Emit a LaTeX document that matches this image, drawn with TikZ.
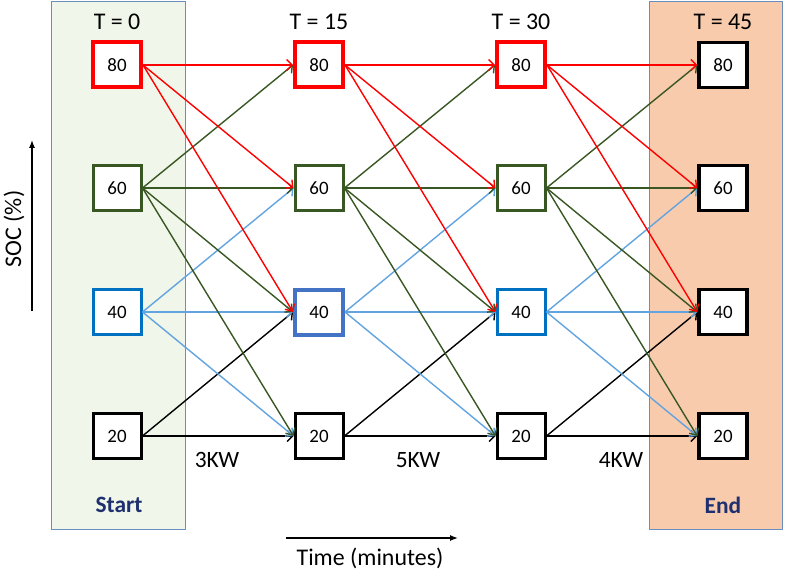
\documentclass[tikz,border=0pt]{standalone}
\usepackage{fontspec}
\setmainfont{Carlito}
\usetikzlibrary{arrows.meta}
\definecolor{cred}{HTML}{FF0000}
\definecolor{cgreen}{HTML}{385723}
\definecolor{cblue}{HTML}{0070C0}
\definecolor{cmblue}{HTML}{4472C4}
\definecolor{clblue}{HTML}{62A4E0}
\definecolor{startfill}{HTML}{F0F6E9}
\definecolor{endfill}{HTML}{F8CBAD}
\definecolor{panelborder}{HTML}{6A8FBF}
\definecolor{navy}{HTML}{1F3070}
\tikzset{
  box/.style={draw, fill=white, minimum width=48bp, minimum height=45bp, line width=3bp, inner sep=0pt, font=\fontsize{19}{22}\selectfont},
  redbox/.style={box, draw=cred, line width=4bp},
  conn/.style={line width=1.4bp, -{Straight Barb[length=5.5bp,width=11bp,line width=1.4bp]}},
  panel/.style={draw=panelborder, line width=1bp},
  titlelbl/.style={font=\fontsize{24}{28}\selectfont},
  kwlbl/.style={font=\fontsize{23.5}{28}\selectfont},
  paneltxt/.style={font=\fontsize{23.5}{28}\selectfont\bfseries, text=navy},
  axis/.style={line width=1.3bp, -{Latex[length=8bp,width=6bp]}}
}
\begin{document}
\begin{tikzpicture}[x=1bp,y=-1bp]
\useasboundingbox (0,0) rectangle (786,575);
% panels
\draw[panel, fill=startfill] (51,2) rectangle (185,529);
\draw[panel, fill=endfill] (649,2) rectangle (782,529);
% nodes
\foreach \c/\x in {0/117,1/319,2/521,3/723}{
  \node[titlelbl] (t\c) at (\x,22) {T = \the\numexpr\c*15\relax};
}
\foreach \c/\x in {0/117,1/319,2/521}{
  \node[redbox] (n\c-80) at (\x,65) {80};
  \node[box, draw=cgreen] (n\c-60) at (\x,188) {60};
  \node[box, draw=black] (n\c-20) at (\x,436) {20};
}
\node[box, draw=cblue] (n0-40) at (117,312) {40};
\node[box, draw=cmblue, line width=4bp] (n1-40) at (319,312) {40};
\node[box, draw=cblue] (n2-40) at (521,312) {40};
\node[box, draw=black, line width=3.5bp] (n3-80) at (723,65) {80};
\node[box, draw=black, line width=3.5bp] (n3-60) at (723,188) {60};
\node[box, draw=black, line width=3.5bp] (n3-40) at (723,312) {40};
\node[box, draw=black, line width=3.5bp] (n3-20) at (723,436) {20};
% edges
\foreach \c [evaluate=\c as \d using int(\c+1)] in {0,1,2}{
  \draw[conn, black] (n\c-20.east) -- (n\d-40.west);
  \draw[conn, black] (n\c-20.east) -- (n\d-20.west);
  \draw[conn, clblue] (n\c-40.east) -- (n\d-60.west);
  \draw[conn, clblue] (n\c-40.east) -- (n\d-40.west);
  \draw[conn, clblue] (n\c-40.east) -- (n\d-20.west);
  \draw[conn, cgreen] (n\c-60.east) -- (n\d-80.west);
  \draw[conn, cgreen] (n\c-60.east) -- (n\d-60.west);
  \draw[conn, cgreen] (n\c-60.east) -- (n\d-40.west);
  \draw[conn, cgreen] (n\c-60.east) -- (n\d-20.west);
  \draw[conn, cred] (n\c-80.east) -- (n\d-80.west);
  \draw[conn, cred] (n\c-80.east) -- (n\d-60.west);
  \draw[conn, cred] (n\c-80.east) -- (n\d-40.west);
}
% labels
\node[kwlbl] (kw1) at (217,460) {3KW};
\node[kwlbl] (kw2) at (418,460) {5KW};
\node[kwlbl] (kw3) at (621,460) {4KW};
\node[paneltxt] (start) at (119,505) {Start};
\node[paneltxt] (end) at (723,505) {End};
% axes
\coordinate (ta) at (286,538);
\coordinate (tb) at (458,538);
\draw[axis] (ta) -- (tb);
\node[titlelbl] (time) at (370,558) {Time (minutes)};
\coordinate (sa) at (32,311);
\coordinate (sb) at (32,140);
\draw[axis] (sa) -- (sb);
\node[titlelbl, rotate=90] (soc) at (14,229) {SOC (\%)};
\end{tikzpicture}
\end{document}
